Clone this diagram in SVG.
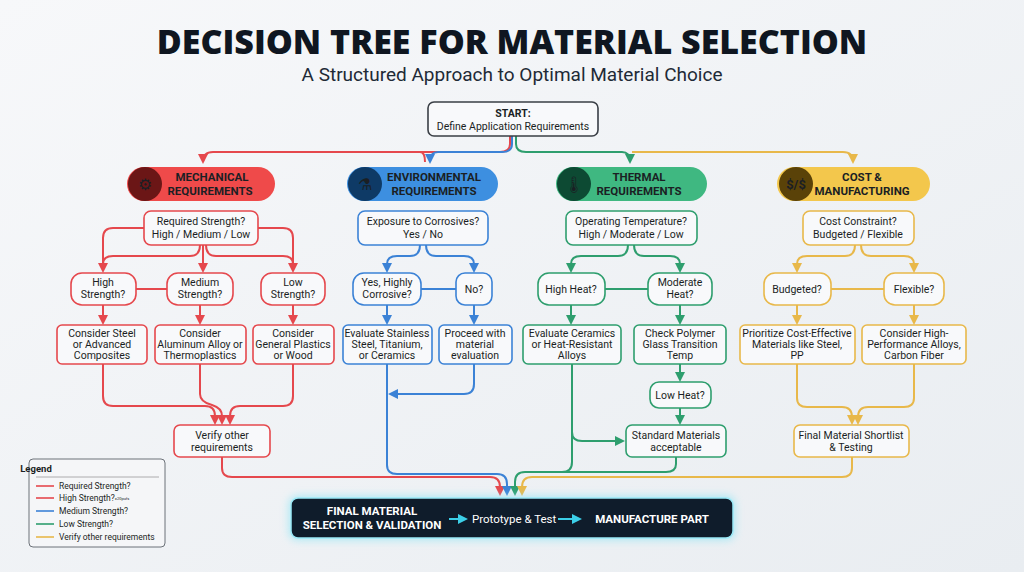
<svg xmlns="http://www.w3.org/2000/svg" width="1024" height="572" viewBox="0 0 1024 572">
<defs>
<linearGradient id="bg" x1="0" y1="0" x2="1" y2="1"><stop offset="0" stop-color="#f7f8fa"/><stop offset="1" stop-color="#e9edf1"/></linearGradient>
<marker id="ar" viewBox="0 0 10 10" refX="8" refY="5" markerWidth="5" markerHeight="5" orient="auto"><path d="M0,0L10,5L0,10z" fill="#e5484d"/></marker>
<marker id="ab" viewBox="0 0 10 10" refX="8" refY="5" markerWidth="5" markerHeight="5" orient="auto"><path d="M0,0L10,5L0,10z" fill="#3b82d6"/></marker>
<marker id="ag" viewBox="0 0 10 10" refX="8" refY="5" markerWidth="5" markerHeight="5" orient="auto"><path d="M0,0L10,5L0,10z" fill="#2e9e6e"/></marker>
<marker id="ay" viewBox="0 0 10 10" refX="8" refY="5" markerWidth="5" markerHeight="5" orient="auto"><path d="M0,0L10,5L0,10z" fill="#e8b84a"/></marker>
<marker id="ac" viewBox="0 0 10 10" refX="8" refY="5" markerWidth="5" markerHeight="5" orient="auto"><path d="M0,0L10,5L0,10z" fill="#3ccfe8"/></marker>
<filter id="glow" x="-10%" y="-40%" width="120%" height="180%"><feGaussianBlur stdDeviation="4"/></filter>
</defs>
<style>
text{font-family:Roboto,"Liberation Sans",sans-serif;text-anchor:middle;fill:#1b1f24}
.t{font-family:"Open Sans","Liberation Sans",sans-serif;font-weight:800;font-size:34px;fill:#0f1620}
.st{font-size:19px;fill:#1e2a36}
.n{font-size:10.5px}
.h{font-size:11.5px;font-weight:bold}
.box{fill:#f8f9fb;stroke-width:1.6}
.r{stroke:#e5484d}.b{stroke:#3b82d6}.g{stroke:#2e9e6e}.y{stroke:#e8b84a}
.c path,.c line{fill:none;stroke-width:2}
.lg{font-size:8.5px;text-anchor:start}
.w{fill:#fff;font-weight:bold;font-size:11.5px}
.wn{fill:#fff;font-size:11.5px;text-anchor:start}
</style>
<rect width="1024" height="572" fill="url(#bg)"/>
<text class="t" x="512" y="54">DECISION TREE FOR MATERIAL SELECTION</text>
<text class="st" x="512" y="81">A Structured Approach to Optimal Material Choice</text>

<g id="connectors" class="c">
<path class="r" d="M510,136V144Q510,152 500,152H213Q203,152 203,162" marker-end="url(#ar)"/>
<path class="r" d="M420,152Q425,152 425,162"/>
<path class="b" d="M512,136V144Q512,152 502,152H438Q430,152 430,162" marker-end="url(#ab)"/>
<path class="g" d="M516,136V144Q516,152 526,152H622Q630,152 630,162" marker-end="url(#ag)"/>
<path class="y" d="M632,152H843Q853,152 853,162" marker-end="url(#ay)"/>
<path class="r" d="M144,228H113Q103,228 103,238V271" marker-end="url(#ar)"/>
<path class="r" d="M258,228H283Q293,228 293,238V271" marker-end="url(#ar)"/>
<path class="r" d="M200,245Q200,256 190,256H113Q103,256 103,264"/>
<path class="r" d="M206,245Q206,256 216,256H283Q293,256 293,264"/>
<path class="r" d="M203,245V271" marker-end="url(#ar)"/>
<line class="r" x1="136" y1="289" x2="167" y2="289"/>
<path class="r" d="M103,305V323" marker-end="url(#ar)"/>
<path class="r" d="M200,305V323" marker-end="url(#ar)"/>
<path class="r" d="M293,305V323" marker-end="url(#ar)"/>
<path class="r" d="M103,364V396Q103,406 113,406H205Q215,406 215,416V423" marker-end="url(#ar)"/>
<path class="r" d="M200,364V394Q200,402 212,405Q222,408 222,416V423" marker-end="url(#ar)"/>
<path class="r" d="M293,364V396Q293,406 283,406H240Q230,406 230,416V423" marker-end="url(#ar)"/>
<path class="r" d="M222,457V468Q222,477 232,477H490Q500,477 500,487V494" marker-end="url(#ar)"/>
<path class="b" d="M420,245Q420,256 410,256H397Q387,256 387,264V271" marker-end="url(#ab)"/>
<path class="b" d="M426,245Q426,256 436,256H464Q474,256 474,264V271" marker-end="url(#ab)"/>
<line class="b" x1="421" y1="289" x2="456" y2="289"/>
<path class="b" d="M387,305V323" marker-end="url(#ab)"/>
<path class="b" d="M474,305V323" marker-end="url(#ab)"/>
<path class="b" d="M474,364V384Q474,394 464,394H390" marker-end="url(#ab)"/>
<path class="b" d="M387,364V465Q387,474 397,474H497Q507,474 507,484V494" marker-end="url(#ab)"/>
<path class="g" d="M628,245Q628,256 618,256H581Q571,256 571,264V271" marker-end="url(#ag)"/>
<path class="g" d="M634,245Q634,256 644,256H670Q680,256 680,264V271" marker-end="url(#ag)"/>
<line class="g" x1="605" y1="289" x2="648" y2="289"/>
<path class="g" d="M571,305V323" marker-end="url(#ag)"/>
<path class="g" d="M680,305V323" marker-end="url(#ag)"/>
<path class="g" d="M680,364V380" marker-end="url(#ag)"/>
<path class="g" d="M680,408V423" marker-end="url(#ag)"/>
<path class="g" d="M572,364V432Q572,441 582,441H623" marker-end="url(#ag)"/>
<path class="g" d="M572,432V462Q572,472 562,472H525Q515,472 515,482V494" marker-end="url(#ag)"/>
<path class="g" d="M676,457V464Q676,472 666,472H560"/>
<path class="y" d="M855,245Q855,256 845,256H807Q797,256 797,264V271" marker-end="url(#ay)"/>
<path class="y" d="M861,245Q861,256 871,256H904Q914,256 914,264V271" marker-end="url(#ay)"/>
<line class="y" x1="831" y1="289" x2="884" y2="289"/>
<path class="y" d="M797,305V323" marker-end="url(#ay)"/>
<path class="y" d="M914,305V323" marker-end="url(#ay)"/>
<path class="y" d="M797,364V398Q797,407 807,407H842Q852,407 852,417V423" marker-end="url(#ay)"/>
<path class="y" d="M914,364V398Q914,407 904,407H868Q858,407 858,417V423" marker-end="url(#ay)"/>
<path class="y" d="M852,457V468Q852,477 842,477H532Q522,477 522,487V494" marker-end="url(#ay)"/>
</g>

<g id="start"><rect class="box" x="428" y="102" width="170" height="34" rx="6" stroke="#3a3f46"/><text class="n" x="513" y="117" font-weight="bold">START:</text><text class="n" x="513" y="130">Define Application Requirements</text></g>

<g id="h-mech"><rect x="127" y="167" width="148" height="34" rx="17" fill="#ef4a4a"/><circle cx="145" cy="184" r="17" fill="#6b1616"/><text x="145" y="190" font-size="16" fill="#f08080">⚙</text><text class="h" x="212" y="181">MECHANICAL</text><text class="h" x="210" y="195">REQUIREMENTS</text></g>
<g id="h-env"><rect x="347" y="167" width="151" height="34" rx="17" fill="#3d8fe0"/><circle cx="365" cy="184" r="17" fill="#0e3a66"/><text x="365" y="190" font-size="16" fill="#8cc4ff">⚗</text><text class="h" x="434" y="181">ENVIRONMENTAL</text><text class="h" x="434" y="195">REQUIREMENTS</text></g>
<g id="h-therm"><rect x="556" y="167" width="151" height="34" rx="17" fill="#3fb881"/><circle cx="574" cy="184" r="17" fill="#0d4a33"/><text x="574" y="190" font-size="16" fill="#9be8c0">🌡</text><text class="h" x="639" y="181">THERMAL</text><text class="h" x="639" y="195">REQUIREMENTS</text></g>
<g id="h-cost"><rect x="777" y="167" width="153" height="34" rx="17" fill="#f3c74c"/><circle cx="796" cy="184" r="17" fill="#5a4208"/><text x="796" y="189" font-size="13" fill="#f3c74c" font-weight="bold">$/$</text><text class="h" x="862" y="181">COST &amp;</text><text class="h" x="862" y="195">MANUFACTURING</text></g>

<g id="m1"><rect class="box r" x="144" y="211" width="114" height="34" rx="7"/><text class="n" x="201" y="225">Required Strength?</text><text class="n" x="201" y="238">High / Medium / Low</text></g>
<g id="m2"><rect class="box r" x="71" y="273" width="65" height="32" rx="11"/><text class="n" x="103" y="286">High</text><text class="n" x="103" y="298">Strength?</text></g>
<g id="m3"><rect class="box r" x="167" y="273" width="66" height="32" rx="11"/><text class="n" x="200" y="286">Medium</text><text class="n" x="200" y="298">Strength?</text></g>
<g id="m4"><rect class="box r" x="261" y="273" width="64" height="32" rx="11"/><text class="n" x="293" y="286">Low</text><text class="n" x="293" y="298">Strength?</text></g>
<g id="m5"><rect class="box r" x="57" y="325" width="90" height="39" rx="5"/><text class="n" x="102" y="337">Consider Steel</text><text class="n" x="102" y="348">or Advanced</text><text class="n" x="102" y="359">Composites</text></g>
<g id="m6"><rect class="box r" x="155" y="325" width="91" height="39" rx="5"/><text class="n" x="200" y="337">Consider</text><text class="n" x="200" y="348">Aluminum Alloy or</text><text class="n" x="200" y="359">Thermoplastics</text></g>
<g id="m7"><rect class="box r" x="253" y="325" width="81" height="39" rx="5"/><text class="n" x="293" y="337">Consider</text><text class="n" x="293" y="348">General Plastics</text><text class="n" x="293" y="359">or Wood</text></g>
<g id="m8"><rect class="box r" x="174" y="425" width="96" height="32" rx="6"/><text class="n" x="222" y="439">Verify other</text><text class="n" x="222" y="451">requirements</text></g>

<g id="e1"><rect class="box b" x="358" y="211" width="130" height="34" rx="7"/><text class="n" x="423" y="225">Exposure to Corrosives?</text><text class="n" x="423" y="238">Yes / No</text></g>
<g id="e2"><rect class="box b" x="353" y="273" width="68" height="32" rx="11"/><text class="n" x="387" y="286">Yes, Highly</text><text class="n" x="387" y="298">Corrosive?</text></g>
<g id="e3"><rect class="box b" x="456" y="273" width="36" height="32" rx="9"/><text class="n" x="474" y="293">No?</text></g>
<g id="e4"><rect class="box b" x="343" y="325" width="89" height="39" rx="5"/><text class="n" x="387" y="337">Evaluate Stainless</text><text class="n" x="387" y="348">Steel, Titanium,</text><text class="n" x="387" y="359">or Ceramics</text></g>
<g id="e5"><rect class="box b" x="439" y="325" width="73" height="39" rx="5"/><text class="n" x="475" y="337">Proceed with</text><text class="n" x="475" y="348">material</text><text class="n" x="475" y="359">evaluation</text></g>

<g id="t1"><rect class="box g" x="566" y="211" width="131" height="34" rx="7"/><text class="n" x="631" y="225">Operating Temperature?</text><text class="n" x="631" y="238">High / Moderate / Low</text></g>
<g id="t2"><rect class="box g" x="538" y="273" width="67" height="32" rx="11"/><text class="n" x="571" y="293">High Heat?</text></g>
<g id="t3"><rect class="box g" x="648" y="273" width="64" height="32" rx="11"/><text class="n" x="680" y="286">Moderate</text><text class="n" x="680" y="298">Heat?</text></g>
<g id="t4"><rect class="box g" x="523" y="325" width="98" height="39" rx="5"/><text class="n" x="572" y="337">Evaluate Ceramics</text><text class="n" x="572" y="348">or Heat-Resistant</text><text class="n" x="572" y="359">Alloys</text></g>
<g id="t5"><rect class="box g" x="634" y="325" width="92" height="39" rx="5"/><text class="n" x="680" y="337">Check Polymer</text><text class="n" x="680" y="348">Glass Transition</text><text class="n" x="680" y="359">Temp</text></g>
<g id="t6"><rect class="box g" x="650" y="382" width="61" height="26" rx="9"/><text class="n" x="680" y="399">Low Heat?</text></g>
<g id="t7"><rect class="box g" x="626" y="425" width="100" height="32" rx="6"/><text class="n" x="676" y="439">Standard Materials</text><text class="n" x="676" y="451">acceptable</text></g>

<g id="c1"><rect class="box y" x="803" y="211" width="111" height="34" rx="7"/><text class="n" x="858" y="225">Cost Constraint?</text><text class="n" x="858" y="238">Budgeted / Flexible</text></g>
<g id="c2"><rect class="box y" x="764" y="273" width="67" height="32" rx="11"/><text class="n" x="797" y="293">Budgeted?</text></g>
<g id="c3"><rect class="box y" x="884" y="273" width="60" height="32" rx="11"/><text class="n" x="914" y="293">Flexible?</text></g>
<g id="c4"><rect class="box y" x="740" y="325" width="115" height="39" rx="5"/><text class="n" x="797" y="337">Prioritize Cost-Effective</text><text class="n" x="797" y="348">Materials like Steel,</text><text class="n" x="797" y="359">PP</text></g>
<g id="c5"><rect class="box y" x="862" y="325" width="104" height="39" rx="5"/><text class="n" x="914" y="337">Consider High-</text><text class="n" x="914" y="348">Performance Alloys,</text><text class="n" x="914" y="359">Carbon Fiber</text></g>
<g id="c6"><rect class="box y" x="794" y="425" width="115" height="32" rx="6"/><text class="n" x="851" y="439">Final Material Shortlist</text><text class="n" x="851" y="451">&amp; Testing</text></g>

<g id="final">
<rect x="289" y="496" width="446" height="44" rx="8" fill="#7fe3f5" opacity="0.6" filter="url(#glow)"/>
<rect x="291" y="498" width="442" height="40" rx="7" fill="#0f1c2b" stroke="#9be9f7" stroke-width="1.5"/>
<text class="w" x="372" y="515">FINAL MATERIAL</text><text class="w" x="372" y="529">SELECTION &amp; VALIDATION</text>
<line x1="449" y1="519" x2="466" y2="519" stroke="#3ccfe8" stroke-width="2" marker-end="url(#ac)"/>
<text class="wn" x="472" y="523">Prototype &amp; Test</text>
<line x1="558" y1="519" x2="580" y2="519" stroke="#3ccfe8" stroke-width="2" marker-end="url(#ac)"/>
<text class="w" x="652" y="523" font-size="12.5">MANUFACTURE PART</text>
</g>

<g id="legend">
<rect x="29" y="459" width="136" height="88" rx="4" fill="#f5f6f8" stroke="#4a5058" stroke-width="0.8"/>
<text x="36" y="472" font-size="9.5" font-weight="bold" text-anchor="start">Legend</text>
<line x1="36" y1="477" x2="159" y2="477" stroke="#999" stroke-width="0.8"/>
<line x1="36" y1="486" x2="54" y2="486" stroke="#e5484d" stroke-width="1.6"/><text class="lg" x="59" y="489">Required Strength?</text>
<line x1="36" y1="498" x2="54" y2="498" stroke="#e5484d" stroke-width="1.6"/><text class="lg" x="59" y="501">High Strength?</text><text x="122" y="500" font-size="4" fill="#aaa" text-anchor="start">=20pufs</text>
<line x1="36" y1="511" x2="54" y2="511" stroke="#3b82d6" stroke-width="1.6"/><text class="lg" x="59" y="514">Medium Strength?</text>
<line x1="36" y1="524" x2="54" y2="524" stroke="#2e9e6e" stroke-width="1.6"/><text class="lg" x="59" y="527">Low Strength?</text>
<line x1="36" y1="537" x2="54" y2="537" stroke="#e8b84a" stroke-width="1.6"/><text class="lg" x="59" y="540">Verify other requirements</text>
</g>
</svg>
